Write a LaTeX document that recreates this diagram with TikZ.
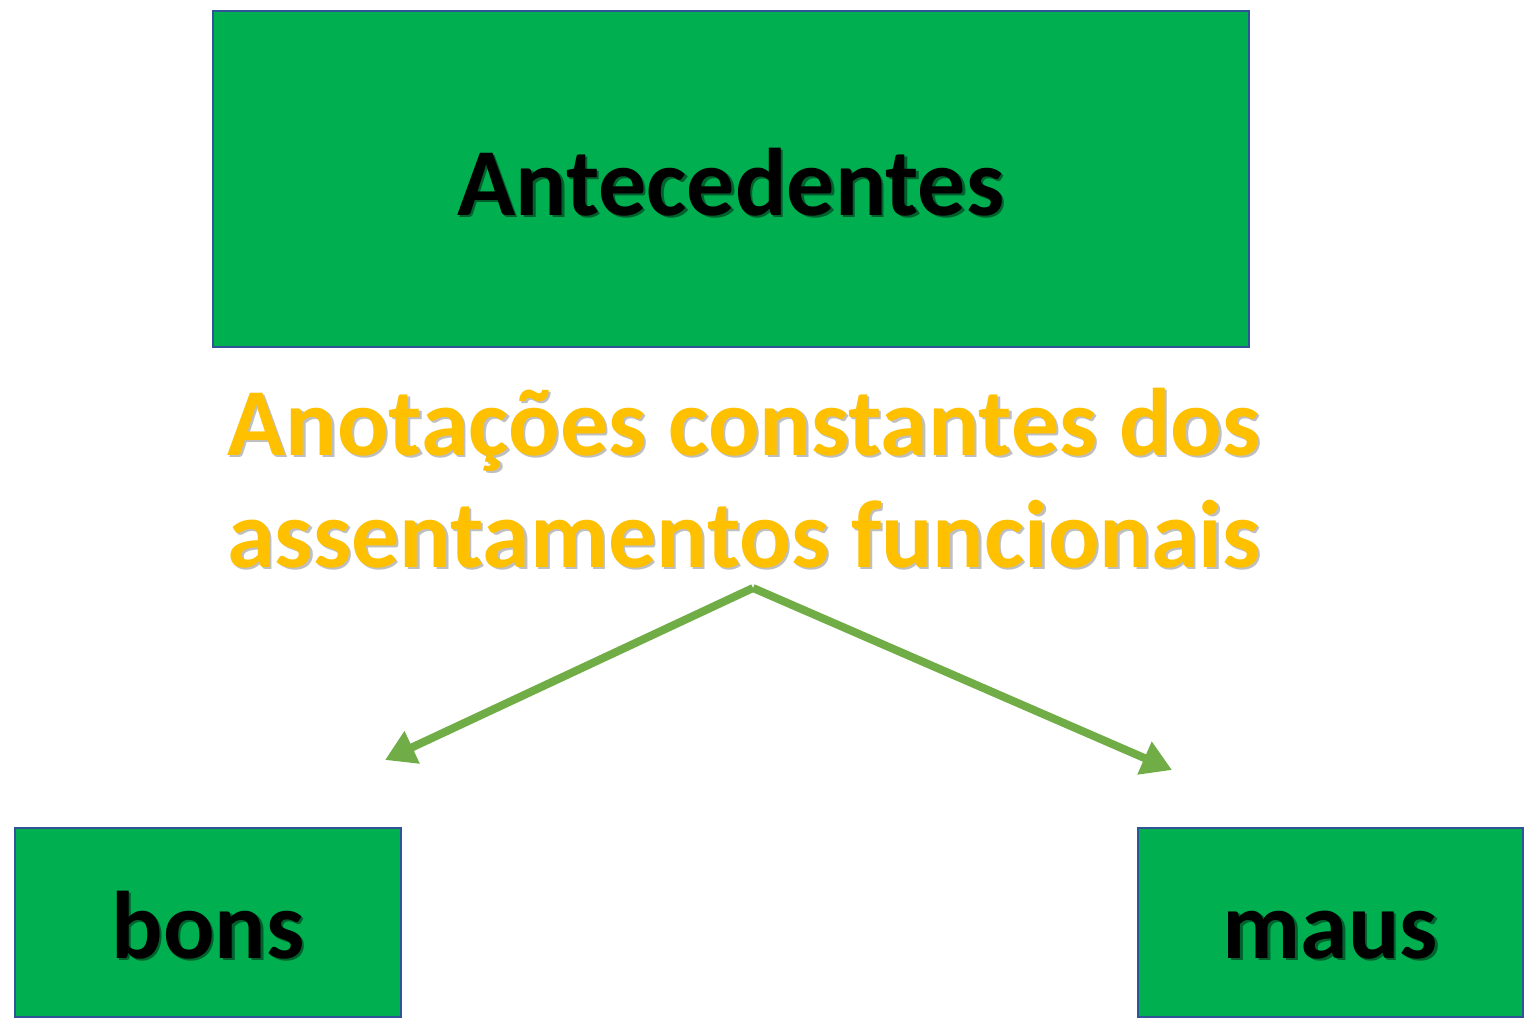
\documentclass[tikz,border=0pt]{standalone}
\usepackage{fontspec}
\setmainfont{Carlito}
\usepackage{tikz}
\usetikzlibrary{positioning, arrows.meta, calc}

\definecolor{boxgreen}{HTML}{00B050}
\definecolor{boxblue}{HTML}{2F5597}
\definecolor{notegold}{HTML}{FFC000}
\definecolor{arrowgreen}{HTML}{70AD47}

% text with a soft drop shadow
\newcommand{\shtxt}[2]{%
    \makebox[0pt][l]{\raisebox{-1.2pt}{\hspace{1.2pt}\textcolor{#1}{#2}}}#2}

\begin{document}
\begin{tikzpicture}[
    x=0.5pt, y=-0.5pt,
    box/.style={
        rectangle, draw=boxblue, line width=1.25pt,
        fill=boxgreen, text=black, inner sep=0pt,
        text height=36pt, text depth=0pt,
        font=\fontsize{48}{54}\selectfont\bfseries
    },
    note/.style={
        text=notegold, align=center, inner sep=0pt,
        font=\fontsize{48}{56}\selectfont\bfseries
    },
    split/.style={-{Triangle[length=15pt, width=17pt]}, line width=4pt, arrowgreen}
]
\useasboundingbox (0,0) rectangle (1524,1023);

% === Top box ===
\node[box, minimum width=518pt, minimum height=168pt] (antec) at (731,179)
    {\shtxt{black!45!boxgreen}{Antecedentes}\hspace{9pt}};

% === Annotation ===
\node[note] (anot) at (744,479)
    {\shtxt{black!25}{Anotações constantes dos}\\
     \shtxt{black!25}{assentamentos funcionais}};

% === Bottom boxes ===
\node[box, minimum width=193pt, minimum height=94.5pt] (bons) at (208,922.5)
    {\shtxt{black!45!boxgreen}{bons}\hspace{3pt}};
\node[box, minimum width=192.5pt, minimum height=94.5pt] (maus) at (1330.5,922.5)
    {\shtxt{black!45!boxgreen}{maus}\hspace{3pt}};

% Split arrows
\coordinate (fork) at (753,588);
\coordinate (toBons) at (385,760);
\coordinate (toMaus) at (1172,770);
\draw[split] (fork) -- (toBons);
\draw[split] (fork) -- (toMaus);

\end{tikzpicture}
\end{document}
